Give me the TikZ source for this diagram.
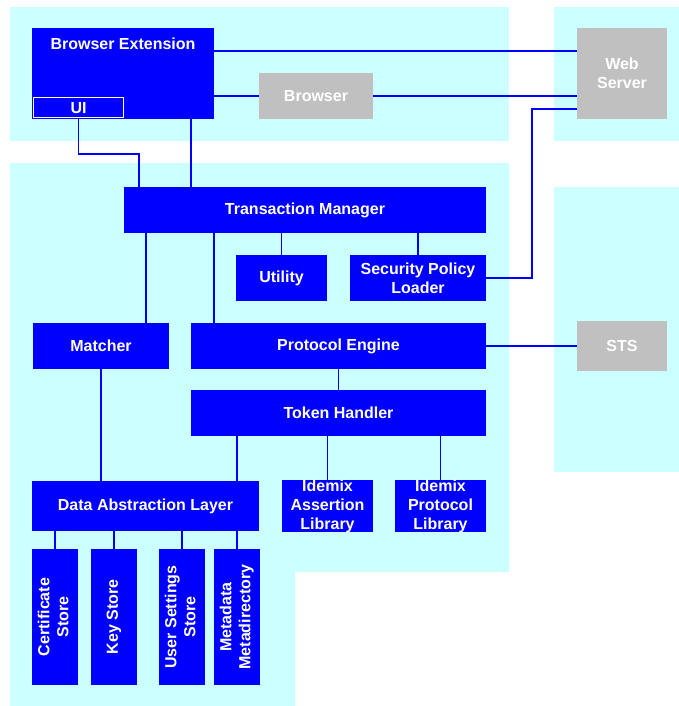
\documentclass[tikz,border=0pt]{standalone}
\usepackage{fontspec}
\setmainfont{Liberation Sans}
\usetikzlibrary{calc}
\definecolor{bgcyan}{HTML}{CCFFFF}
\definecolor{boxblue}{HTML}{0000FF}
\definecolor{boxgray}{HTML}{C0C0C0}
\begin{document}
\begin{tikzpicture}[x=1pt, y=-1pt,
  lblfont/.style={font=\fontsize{16}{19}\selectfont\bfseries},
  bluebox/.style={fill=boxblue, text=white, inner sep=0pt, outer sep=0pt, align=center, lblfont},
  graybox/.style={fill=boxgray, text=white, inner sep=0pt, outer sep=0pt, align=center, lblfont},
  vbox/.style={bluebox, minimum width=46pt, minimum height=136pt},
  link/.style={draw=boxblue, line width=1.7pt},
  bg/.style={fill=bgcyan}]
\useasboundingbox (0,0) rectangle (679,706);
\fill[white] (0,0) rectangle (679,706);
% background regions
\fill[bg] (10,7) rectangle (509,141);
\fill[bg] (554,7) rectangle (679,141);
\fill[bg] (10,163) -- (509,163) -- (509,572) -- (295,572) -- (295,706) -- (10,706) -- cycle;
\fill[bg] (554,187) rectangle (679,472);
% nodes
\node[bluebox, minimum width=182pt, minimum height=91pt,
  label={[text=white, lblfont, anchor=center, yshift=-16pt]north:Browser Extension}] (BE) at (123,73.5) {};
\node[bluebox, draw=white, line width=1pt, minimum width=90pt, minimum height=20pt] (UI) at (78.5,108) {UI};
\node[graybox, minimum width=114pt, minimum height=46pt] (BR) at (316,96) {Browser};
\node[graybox, minimum width=90pt, minimum height=91pt] (WS) at (622,73.5) {Web\\Server};
\node[bluebox, minimum width=362pt, minimum height=46pt] (TM) at (305,210) {Transaction Manager};
\node[bluebox, minimum width=91pt, minimum height=46pt] (UT) at (281.5,278) {Utility};
\node[bluebox, minimum width=136pt, minimum height=46pt] (SPL) at (418,278) {Security Policy\\Loader};
\node[bluebox, minimum width=136pt, minimum height=46pt] (MA) at (101,346) {Matcher};
\node[bluebox, minimum width=295pt, minimum height=46pt] (PE) at (338.5,346) {Protocol Engine};
\node[graybox, minimum width=90pt, minimum height=50pt] (STS) at (622,346) {STS};
\node[bluebox, minimum width=295pt, minimum height=46pt] (TH) at (338.5,413) {Token Handler};
\node[bluebox, minimum width=227pt, minimum height=50pt] (DAL) at (145.5,506) {Data Abstraction Layer};
\node[bluebox, minimum width=91pt, minimum height=50pt] (IAL) at (327.5,506) {Idemix\\Assertion\\Library};
\node[bluebox, minimum width=91pt, minimum height=50pt] (IPL) at (440.5,506) {Idemix\\Protocol\\Library};
\node[vbox] (CS) at (55,617) {\rotatebox{90}{\begin{tabular}{@{}c@{}}Certificate\\Store\end{tabular}}};
\node[vbox] (KS) at (114,617) {\rotatebox{90}{Key Store}};
\node[vbox] (US) at (182,617) {\rotatebox{90}{\begin{tabular}{@{}c@{}}User Settings\\Store\end{tabular}}};
\node[vbox] (MM) at (237,617) {\rotatebox{90}{\begin{tabular}{@{}c@{}}Metadata\\Metadirectory\end{tabular}}};
% connectors
\draw[link] ([yshift=22.5pt]BE.east) -- ([yshift=22.5pt]WS.west);
\draw[link] ([yshift=-22.5pt]BE.east) -- (BR.west);
\draw[link] (BR.east) -- (BR.east -| WS.west);
\draw[link] ([yshift=-35.5pt]WS.west) -- ++(-45,0) |- (SPL.east);
\draw[link] (UI.south) -- ++(0,36) -| ([xshift=15pt]TM.north west);
\draw[link] ([xshift=68pt]BE.south) coordinate (b1) -- (b1 |- TM.north);
\draw[link] ([xshift=22pt]TM.south west) coordinate (t1) -- (t1 |- MA.north);
\draw[link] ([xshift=90pt]TM.south west) coordinate (t2) -- (t2 |- PE.north);
\draw[link] (UT.north |- TM.south) -- (UT.north);
\draw[link] (SPL.north |- TM.south) -- (SPL.north);
\draw[link] (PE.east) -- (STS.west);
\draw[link] (PE.south) -- (TH.north);
\draw[link] (MA.south) -- (MA.south |- DAL.north);
\draw[link] ([xshift=-22pt]DAL.north east) coordinate (d1) -- (d1 |- TH.south);
\draw[link] (IAL.north) -- (IAL.north |- TH.south);
\draw[link] (IPL.north) -- (IPL.north |- TH.south);
\draw[link] (CS.north |- DAL.south) -- (CS.north);
\draw[link] (KS.north |- DAL.south) -- (KS.north);
\draw[link] (US.north |- DAL.south) -- (US.north);
\draw[link] (MM.north |- DAL.south) -- (MM.north);
\end{tikzpicture}
\end{document}
